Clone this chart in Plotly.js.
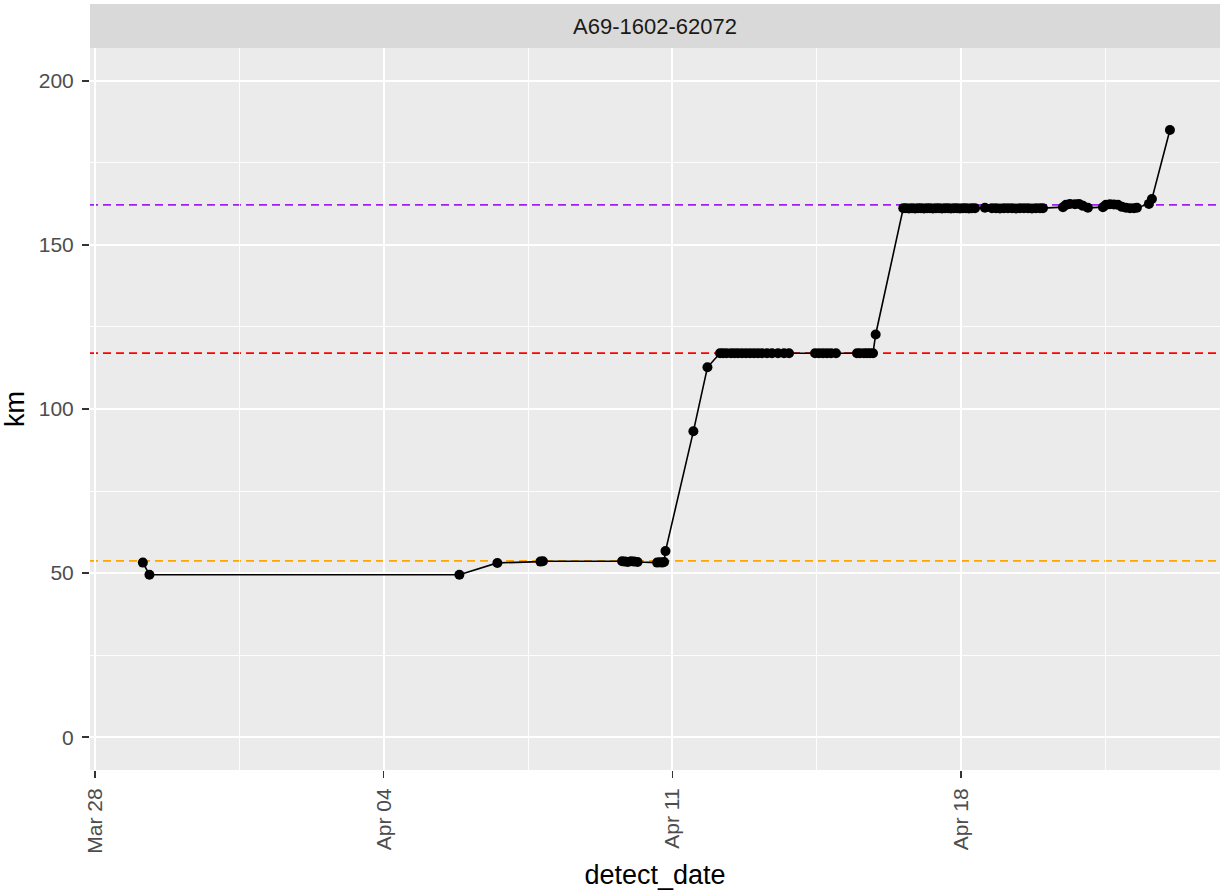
<!DOCTYPE html>
<html>
<head>
<meta charset="utf-8">
<script src="https://cdn.plot.ly/plotly-3.0.1.min.js"></script>
<style>html,body{margin:0;padding:0;background:#fff;}#chart{width:1225px;height:894px;}</style>
</head>
<body>
<div id="chart"></div>
<script>
const detectDate = [
  "2021-03-29 03:46","2021-03-29 07:36","2021-04-05 20:01","2021-04-06 18:07",
  "2021-04-07 19:12","2021-04-07 20:38",
  "2021-04-09 18:43","2021-04-09 20:24","2021-04-09 22:05","2021-04-09 23:55","2021-04-10 01:40","2021-04-10 03:43",
  "2021-04-10 15:07","2021-04-10 16:33","2021-04-10 18:00","2021-04-10 19:10","2021-04-10 19:59",
  "2021-04-11 12:13","2021-04-11 20:24",
  "2021-04-12 03:43","2021-04-12 05:28","2021-04-12 07:30","2021-04-12 10:07","2021-04-12 12:10","2021-04-12 14:13",
  "2021-04-12 16:33","2021-04-12 18:52","2021-04-12 21:11","2021-04-12 23:31","2021-04-13 01:51","2021-04-13 04:10",
  "2021-04-13 07:05","2021-04-13 09:59","2021-04-13 13:29","2021-04-13 16:58","2021-04-13 19:53",
  "2021-04-14 11:01","2021-04-14 13:21","2021-04-14 15:40","2021-04-14 18:00","2021-04-14 20:20","2021-04-14 23:14",
  "2021-04-15 11:27","2021-04-15 13:12","2021-04-15 15:32","2021-04-15 17:17","2021-04-15 19:01","2021-04-15 20:46",
  "2021-04-15 22:19",
  "2021-04-16 14:24","2021-04-16 15:59","2021-04-16 17:43","2021-04-16 19:28","2021-04-16 21:13","2021-04-16 22:57",
  "2021-04-17 00:42","2021-04-17 02:26","2021-04-17 04:11","2021-04-17 05:56","2021-04-17 07:41","2021-04-17 09:25",
  "2021-04-17 11:10","2021-04-17 12:55","2021-04-17 14:40","2021-04-17 16:24","2021-04-17 18:09","2021-04-17 19:54",
  "2021-04-17 21:39","2021-04-17 23:24","2021-04-18 01:09","2021-04-18 02:53","2021-04-18 04:38","2021-04-18 06:23",
  "2021-04-18 08:08","2021-04-18 13:55",
  "2021-04-18 18:00","2021-04-18 20:21","2021-04-18 22:40","2021-04-19 01:00","2021-04-19 03:20","2021-04-19 05:40",
  "2021-04-19 08:00","2021-04-19 10:19","2021-04-19 12:39","2021-04-19 14:58","2021-04-19 17:17","2021-04-19 19:38",
  "2021-04-19 21:58","2021-04-19 23:41",
  "2021-04-20 11:20","2021-04-20 13:05","2021-04-20 15:24","2021-04-20 18:19","2021-04-20 20:38","2021-04-20 22:58",
  "2021-04-21 01:52",
  "2021-04-21 10:36","2021-04-21 12:22","2021-04-21 14:41","2021-04-21 17:01","2021-04-21 19:21","2021-04-21 21:40",
  "2021-04-22 00:00","2021-04-22 02:20","2021-04-22 04:39","2021-04-22 06:24",
  "2021-04-22 13:23","2021-04-22 15:07","2021-04-23 01:36"
];
const km = [
  53.2,49.5,49.5,53.1,
  53.5,53.6,
  53.6,53.5,53.4,53.6,53.5,53.4,
  53.2,53.3,53.2,53.4,56.7,
  93.2,112.7,
  117,117,117,117,117,117,
  117,117,117,117,117,117,
  117,117,117,117,117,
  117,117,117,117,117,117,
  117,117,117,117,117,117,
  122.7,
  161.2,161.2,161.1,161.2,161.1,161.2,
  161.2,161.1,161.2,161.2,161.1,161.2,
  161.2,161.1,161.2,161.2,161.1,161.2,
  161.2,161.1,161.2,161.2,161.1,161.2,
  161.2,161.3,
  161.2,161.2,161.1,161.2,161.2,161.2,
  161.1,161.2,161.2,161.2,161.1,161.2,
  161.2,161.2,
  161.5,162.2,162.5,162.4,162.5,161.9,
  161.3,
  161.5,162.2,162.4,162.3,162.2,161.6,
  161.3,161.2,161.2,161.3,
  162.5,164,185
];
const refLevels = [53.7, 117, 162.2];
const refColors = ["#FFA500", "#FF0000", "#A020F0"];
const panelLabel = "A69-1602-62072";
const xTitle = "detect_date";
const yTitle = "km";

const shapes = [];
// facet strip
shapes.push({type:"rect", xref:"paper", yref:"paper", x0:0, x1:1, y0:1, y1:1+44/722,
  fillcolor:"#D9D9D9", line:{width:0}, layer:"above"});
refLevels.forEach((v,i)=>{
  shapes.push({type:"line", xref:"paper", yref:"y", x0:0, x1:1, y0:v, y1:v,
    line:{color:refColors[i], width:1.7, dash:"8px,5px"}, layer:"below"});
});

const trace = {
  x: detectDate, y: km, type:"scatter", mode:"lines+markers",
  line:{color:"#000000", width:1.6},
  marker:{color:"#000000", size:10},
  hoverinfo:"x+y", showlegend:false
};

const layout = {
  width:1225, height:894,
  margin:{l:90, r:5, t:48, b:124},
  paper_bgcolor:"#FFFFFF", plot_bgcolor:"#EBEBEB",
  font:{family:"Liberation Sans, Arial, sans-serif", color:"#4D4D4D"},
  showlegend:false,
  xaxis:{
    type:"date",
    range:["2021-03-27 21:00","2021-04-24 06:45"],
    tick0:"2021-03-28", dtick:604800000, tickformat:"%b %d",
    tickangle:-90, tickfont:{size:21, color:"#4D4D4D"},
    ticks:"outside", ticklen:7, tickcolor:"#333333", tickwidth:1.4,
    ticklabelstandoff:2,
    showgrid:true, gridcolor:"#FFFFFF", gridwidth:1.8,
    minor:{tick0:"2021-03-31 12:00", dtick:604800000, showgrid:true, gridcolor:"#FFFFFF", gridwidth:0.9, ticks:""},
    zeroline:false, showline:false,
    title:{text:xTitle, font:{size:27, color:"#000000"}, standoff:12}
  },
  yaxis:{
    range:[-10, 210],
    tick0:0, dtick:50, tickfont:{size:21, color:"#4D4D4D"},
    ticks:"outside", ticklen:7, tickcolor:"#333333", tickwidth:1.4,
    ticklabelstandoff:4,
    showgrid:true, gridcolor:"#FFFFFF", gridwidth:1.8,
    minor:{tick0:25, dtick:50, showgrid:true, gridcolor:"#FFFFFF", gridwidth:0.9, ticks:""},
    zeroline:false, showline:false,
    title:{text:yTitle, font:{size:27, color:"#000000"}, standoff:6}
  },
  shapes: shapes,
  annotations:[{
    text:panelLabel, xref:"paper", yref:"paper", x:0.5, y:1+22/722,
    xanchor:"center", yanchor:"middle", showarrow:false,
    font:{size:22, color:"#1A1A1A"}
  }]
};

Plotly.newPlot("chart", [trace], layout, {displayModeBar:false, staticPlot:true});
</script>
</body>
</html>
